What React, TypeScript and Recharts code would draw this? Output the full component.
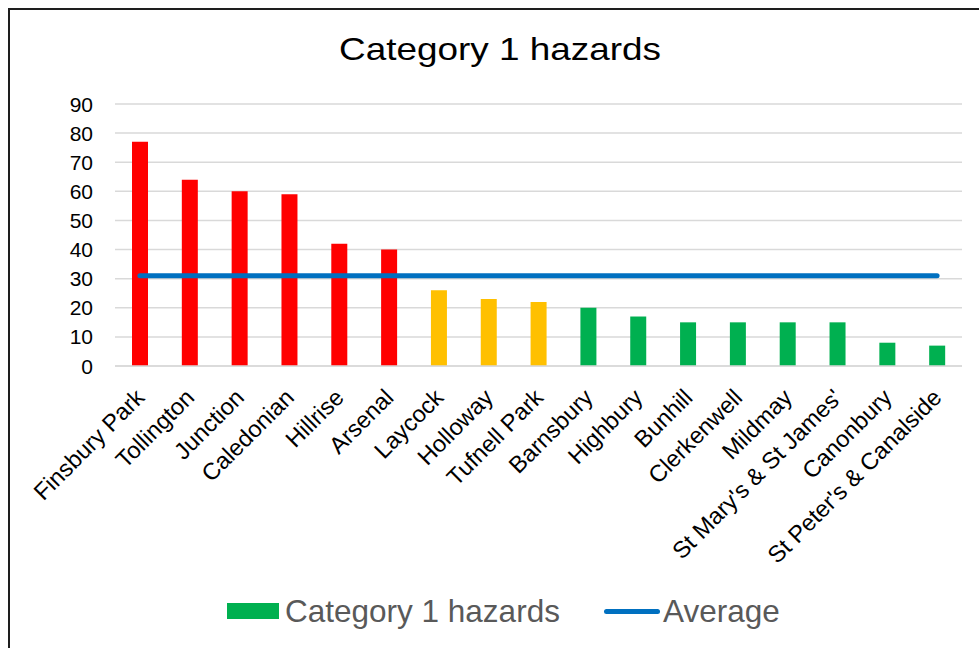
import React from 'react';
import { ComposedChart, Bar, Line, XAxis, YAxis, CartesianGrid, Legend, Cell } from 'recharts';

const categories = [
  'Finsbury Park',
  'Tollington',
  'Junction',
  'Caledonian',
  'Hillrise',
  'Arsenal',
  'Laycock',
  'Holloway',
  'Tufnell Park',
  'Barnsbury',
  'Highbury',
  'Bunhill',
  'Clerkenwell',
  'Mildmay',
  "St Mary's & St James'",
  'Canonbury',
  "St Peter's & Canalside",
];

const hazardValues = [77, 64, 60, 59, 42, 40, 26, 23, 22, 20, 17, 15, 15, 15, 15, 8, 7];

const averageValues = [31, 31, 31, 31, 31, 31, 31, 31, 31, 31, 31, 31, 31, 31, 31, 31, 31];

const barColors = [
  '#FF0000', '#FF0000', '#FF0000', '#FF0000', '#FF0000', '#FF0000',
  '#FFC000', '#FFC000', '#FFC000',
  '#00B050', '#00B050', '#00B050', '#00B050', '#00B050', '#00B050', '#00B050', '#00B050',
];

const yTicks = [0, 10, 20, 30, 40, 50, 60, 70, 80, 90];

const seriesNames = ['Category 1 hazards', 'Average'];
const chartTitle = 'Category 1 hazards';

const data = categories.map((name, i) => ({
  name,
  hazards: hazardValues[i],
  average: averageValues[i],
}));

const FONT = '"Liberation Sans", Arial, Helvetica, sans-serif';

const CHART_W = 969;
const CHART_H = 640;

function XTick(props: any) {
  const { x, y, payload } = props;
  const ax = x + 6;
  const ay = y + 33;
  return (
    <text
      x={ax}
      y={ay}
      transform={`rotate(-45 ${ax} ${ay})`}
      textAnchor="end"
      fontSize={23.5}
      fontFamily={FONT}
      fill="#000000"
    >
      {payload.value}
    </text>
  );
}

function YTick(props: any) {
  const { x, y, payload } = props;
  return (
    <text x={x - 22} y={y + 7.5} textAnchor="end" fontSize={21} fontFamily={FONT} fill="#000000">
      {payload.value}
    </text>
  );
}

function LegendContent() {
  return (
    <div
      style={{
        position: 'relative',
        width: CHART_W,
        height: 50,
        fontFamily: FONT,
        fontSize: 31.5,
        color: '#595959',
      }}
    >
      <div
        style={{ position: 'absolute', left: 217, top: 17, width: 52, height: 16, background: '#00B050' }}
      />
      <span style={{ position: 'absolute', left: 275, top: 0, lineHeight: '50px', whiteSpace: 'nowrap' }}>
        {seriesNames[0]}
      </span>
      <div
        style={{
          position: 'absolute',
          left: 594,
          top: 22.5,
          width: 56,
          height: 5,
          borderRadius: 2.5,
          background: '#0070C0',
        }}
      />
      <span style={{ position: 'absolute', left: 653, top: 0, lineHeight: '50px', whiteSpace: 'nowrap' }}>
        {seriesNames[1]}
      </span>
    </div>
  );
}

export default function App() {
  return (
    <div
      style={{
        position: 'fixed',
        left: 8,
        top: 8,
        width: 990,
        height: 660,
        border: '2px solid #1e1e1e',
        background: '#ffffff',
        overflow: 'hidden',
      }}
    >
      <svg
        width={CHART_W}
        height={80}
        style={{ position: 'absolute', left: 0, top: 0, zIndex: 2, pointerEvents: 'none' }}
      >
        <text
          x={490}
          y={49.5}
          textAnchor="middle"
          fontSize={32}
          fontFamily={FONT}
          fill="#000000"
          textLength={322}
          lengthAdjust="spacingAndGlyphs"
        >
          {chartTitle}
        </text>
      </svg>
      <div style={{ position: 'absolute', left: 0, top: 0 }}>
        <ComposedChart
          width={CHART_W}
          height={CHART_H}
          data={data}
          margin={{ top: 94, right: 17, bottom: 14, left: 45 }}
        >
          <CartesianGrid horizontal vertical={false} stroke="#D9D9D9" strokeWidth={1.5} />
          <XAxis
            dataKey="name"
            interval={0}
            height={220}
            tickSize={0}
            tickMargin={0}
            tickLine={false}
            axisLine={{ stroke: '#D9D9D9', strokeWidth: 1.5 }}
            tick={<XTick />}
          />
          <YAxis
            width={60}
            domain={[0, 90]}
            ticks={yTicks}
            interval={0}
            tickSize={0}
            tickMargin={0}
            axisLine={false}
            tickLine={false}
            tick={<YTick />}
          />
          <Legend
            verticalAlign="bottom"
            align="left"
            width={CHART_W}
            height={50}
            wrapperStyle={{ left: 0, width: CHART_W }}
            content={<LegendContent />}
          />
          <Bar dataKey="hazards" name={seriesNames[0]} barSize={16} fill="#00B050" isAnimationActive={false}>
            {data.map((d, i) => (
              <Cell key={d.name} fill={barColors[i]} />
            ))}
          </Bar>
          <Line
            type="linear"
            dataKey="average"
            name={seriesNames[1]}
            stroke="#0070C0"
            strokeWidth={5}
            strokeLinecap="round"
            dot={false}
            activeDot={false}
            isAnimationActive={false}
          />
        </ComposedChart>
      </div>
    </div>
  );
}
